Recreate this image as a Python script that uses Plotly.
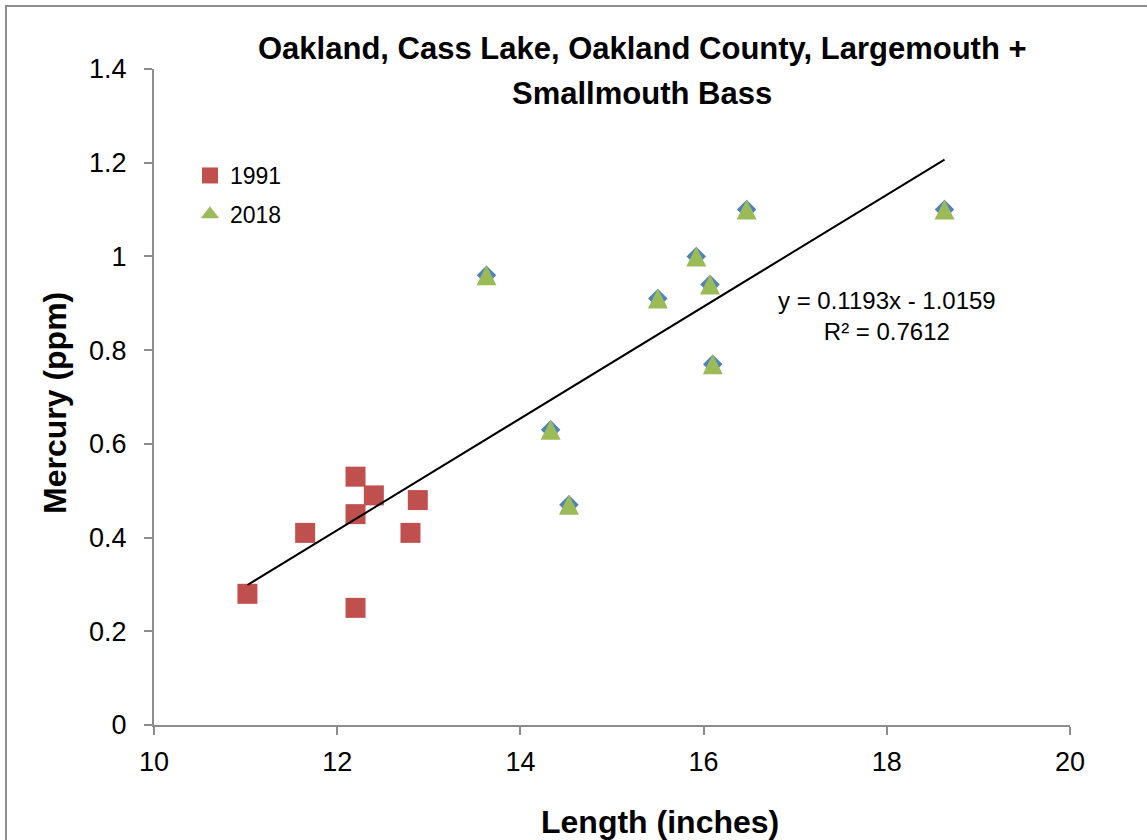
import plotly.graph_objects as go

# Data
len_1991 = [11.02, 11.65, 12.20, 12.20, 12.20, 12.40, 12.80, 12.88]
hg_1991 = [0.28, 0.41, 0.53, 0.45, 0.25, 0.49, 0.41, 0.48]
len_2018 = [13.63, 14.33, 14.53, 15.50, 15.92, 16.07, 16.10, 16.47, 18.63]
hg_2018 = [0.96, 0.63, 0.47, 0.91, 1.00, 0.94, 0.77, 1.10, 1.10]
slope = 0.1193
intercept = -1.0159
r2 = 0.7612
trend_x = [min(len_1991 + len_2018), max(len_1991 + len_2018)]
trend_y = [slope * v + intercept for v in trend_x]
x_ticks = [10, 12, 14, 16, 18, 20]
y_ticks = [0, 0.2, 0.4, 0.6, 0.8, 1, 1.2, 1.4]

W, H = 1147, 840
L, R, T, B = 154, 77, 69, 115
pw, ph = W - L - R, H - T - B

def px(xp):
    return (xp - L) / pw

def py(yp):
    return (H - B - yp) / ph

RED, GREEN, BLUE = "#C0504D", "#9BBB59", "#4F81BD"

fig = go.Figure()
# blue diamonds sit behind the 2018 triangles
fig.add_trace(go.Scatter(x=len_2018, y=hg_2018, mode="markers", showlegend=False,
                         marker=dict(symbol="diamond", size=15, color=BLUE),
                         hoverinfo="skip"))
fig.add_trace(go.Scatter(x=len_1991, y=hg_1991, mode="markers", name="1991", legendgroup="a",
                         marker=dict(symbol="square", size=20, color=RED)))
fig.add_trace(go.Scatter(x=len_2018, y=hg_2018, mode="markers", name="2018", legendgroup="b",
                         showlegend=False,
                         marker=dict(symbol="arrow-down", angle=180, size=20, standoff=10,
                                     color=GREEN)))
# legend entry for 2018 (legend-only, no points)
fig.add_trace(go.Scatter(x=[None], y=[None], mode="markers", name="2018", legendgroup="b",
                         marker=dict(symbol="triangle-up", size=20, color=GREEN)))
fig.add_trace(go.Scatter(x=trend_x, y=trend_y, mode="lines", showlegend=False,
                         line=dict(color="black", width=2)))

font_family = "Liberation Sans, Arial, sans-serif"
axis_color = "#8C8C8C"

fig.update_layout(
    width=W, height=H,
    margin=dict(l=L, r=R, t=T, b=B, autoexpand=False),
    paper_bgcolor="white", plot_bgcolor="white",
    font=dict(family=font_family, color="black"),
    xaxis=dict(range=[10, 20], tickvals=x_ticks, ticktext=[str(v) for v in x_ticks],
               showgrid=False, zeroline=False, showline=True, linecolor=axis_color, linewidth=2,
               ticks="outside", ticklen=8, tickcolor=axis_color, tickwidth=2,
               tickfont=dict(size=27), ticklabelstandoff=4),
    yaxis=dict(range=[0, 1.4], tickvals=y_ticks, ticktext=[("%g" % v) for v in y_ticks],
               showgrid=False, zeroline=False, showline=True, linecolor=axis_color, linewidth=2,
               ticks="outside", ticklen=8, tickcolor=axis_color, tickwidth=2,
               tickfont=dict(size=27), ticklabelstandoff=12),
    legend=dict(x=px(190), y=py(154), xanchor="left", yanchor="top",
                font=dict(size=23), bgcolor="rgba(0,0,0,0)", itemwidth=30,
                tracegroupgap=6),
    showlegend=True,
)

title_lines = ["Oakland, Cass Lake, Oakland County, Largemouth +", "Smallmouth Bass"]
for text, yc in zip(title_lines, [48, 93]):
    fig.add_annotation(text="<b>" + text + "</b>", xref="paper", yref="paper",
                       x=px(642), y=py(yc), xanchor="center", yanchor="middle", showarrow=False,
                       font=dict(size=31, family=font_family, color="black"))

fig.add_annotation(text="<b>Length (inches)</b>", xref="paper", yref="paper",
                   x=px(660), y=py(822), xanchor="center", yanchor="middle", showarrow=False,
                   font=dict(size=32, family=font_family, color="black"))
fig.add_annotation(text="<b>Mercury (ppm)</b>", xref="paper", yref="paper", textangle=-90,
                   x=px(55), y=py(403), xanchor="center", yanchor="middle", showarrow=False,
                   font=dict(size=32, family=font_family, color="black"))
fig.add_annotation(text="y = 0.1193x - 1.0159<br>R² = 0.7612", xref="paper", yref="paper",
                   x=px(887), y=py(316), xanchor="center", yanchor="middle", showarrow=False,
                   align="center", font=dict(size=24, family=font_family, color="black"))

fig.add_shape(type="rect", xref="paper", yref="paper",
              x0=px(6), x1=px(1170), y0=py(6), y1=py(870),
              line=dict(color=axis_color, width=2), fillcolor="rgba(0,0,0,0)", layer="below")

fig.write_html("out.html", config={"displayModeBar": False},
               post_script="document.body.style.margin='0';document.body.style.overflow='hidden';")
